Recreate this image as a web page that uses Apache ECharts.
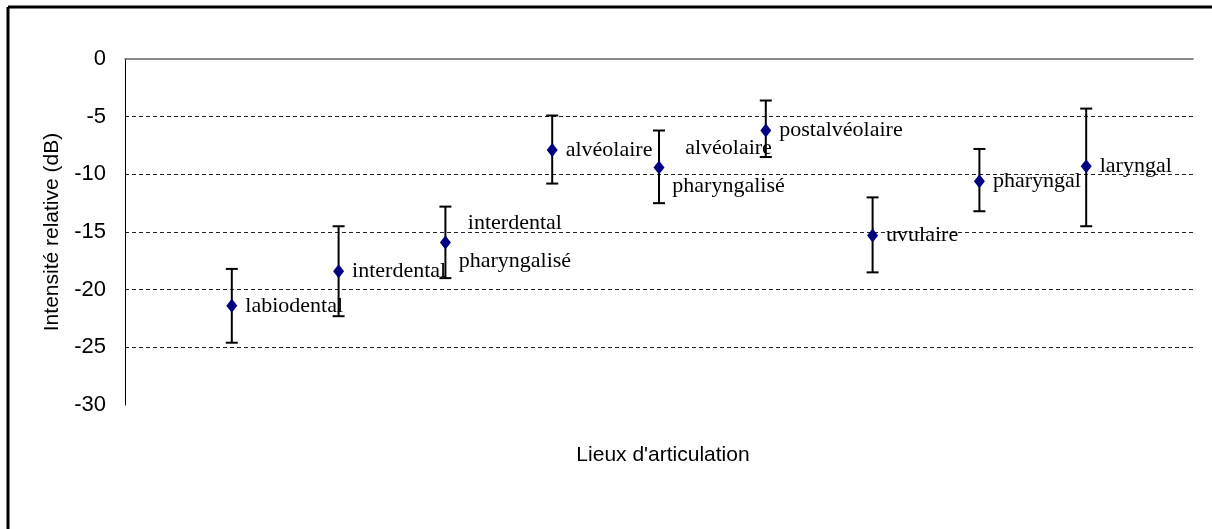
<!DOCTYPE html>
<html>
<head>
<meta charset="utf-8">
<script src="https://cdn.jsdelivr.net/npm/echarts@6/dist/echarts.min.js"></script>
<style>
  html, body { margin: 0; padding: 0; background: #fff; }
  #chart { width: 1212px; height: 529px; }
</style>
</head>
<body>
<div id="chart"></div>
<script>
// lieux d'articulation, positions 1..9 sur l'axe
const places = [
  "labiodental",
  "interdental",
  "interdental\npharyngalisé",
  "alvéolaire",
  "alvéolaire\npharyngalisé",
  "postalvéolaire",
  "uvulaire",
  "pharyngal",
  "laryngal",
];
const means = [-21.4, -18.4, -15.9, -7.9, -9.4, -6.2, -15.3, -10.6, -9.3];
const upper = [-18.2, -14.5, -12.8, -4.9, -6.2, -3.6, -12.0, -7.8, -4.3];
const lower = [-24.6, -22.3, -19.0, -10.8, -12.5, -8.5, -18.5, -13.2, -14.5];
const yTicks = [-30, -25, -20, -15, -10, -5, 0];

const points = means.map((v, i) => ({ value: [i + 1, v], name: places[i] }));
const bars = means.map((v, i) => [i + 1, lower[i], upper[i]]);

const chart = echarts.init(document.getElementById("chart"));

const renderErrorBar = (params, api) => {
  const x = api.value(0);
  const lo = api.coord([x, api.value(1)]);
  const hi = api.coord([x, api.value(2)]);
  const cap = 6;
  const style = { stroke: "#000", lineWidth: 2 };
  return {
    type: "group",
    children: [
      { type: "line", shape: { x1: lo[0], y1: lo[1], x2: hi[0], y2: hi[1] }, style },
      { type: "line", shape: { x1: hi[0] - cap, y1: hi[1], x2: hi[0] + cap, y2: hi[1] }, style },
      { type: "line", shape: { x1: lo[0] - cap, y1: lo[1], x2: lo[0] + cap, y2: lo[1] }, style },
    ],
  };
};

chart.setOption({
  animation: false,
  backgroundColor: "#fff",
  title: {
    text: "Lieux d'articulation",
    left: 658,
    top: 440,
    textAlign: "center",
    textStyle: {
      fontFamily: "Liberation Sans",
      fontSize: 21,
      fontWeight: "normal",
      color: "#000",
    },
  },
  graphic: [
    { type: "line", shape: { x1: 8, y1: 7, x2: 1212, y2: 7 }, style: { stroke: "#000", lineWidth: 3 } },
    { type: "line", shape: { x1: 8, y1: 7, x2: 8, y2: 529 }, style: { stroke: "#000", lineWidth: 3 } },
  ],
  grid: { left: 125, top: 59, right: 19, bottom: 124 },
  xAxis: {
    type: "value",
    min: 0,
    max: 10,
    position: "top",
    axisLine: { show: true, lineStyle: { color: "#666", width: 1.5 } },
    axisTick: { show: false },
    axisLabel: { show: false },
    splitLine: { show: false },
  },
  yAxis: {
    type: "value",
    min: yTicks[0],
    max: yTicks[yTicks.length - 1],
    interval: 5,
    name: "Intensité relative (dB)",
    nameLocation: "middle",
    nameGap: 62,
    nameTextStyle: { fontFamily: "Liberation Sans", fontSize: 21, color: "#000" },
    axisLine: { show: true, lineStyle: { color: "#000", width: 1 } },
    axisTick: { show: false },
    axisLabel: {
      margin: 19,
      fontFamily: "Liberation Sans",
      fontSize: 22,
      color: "#000",
    },
    splitLine: {
      show: true,
      showMinLine: false,
      showMaxLine: false,
      lineStyle: { color: "#222", width: 1, type: [4, 3] },
    },
  },
  series: [
    {
      type: "custom",
      renderItem: renderErrorBar,
      data: bars,
      z: 2,
    },
    {
      type: "scatter",
      data: points,
      symbol: "diamond",
      symbolSize: [11, 14],
      itemStyle: { color: "#000080", opacity: 1 },
      z: 3,
      label: {
        show: true,
        position: "right",
        distance: 8,
        fontFamily: "Liberation Serif",
        fontSize: 22,
        color: "#000",
        opacity: 1,
        formatter: (p) => {
          if (p.name.indexOf("\n") < 0) return p.name;
          return p.name.split("\n").map((l) => "{c|" + l + "}").join("\n");
        },
        rich: {
          c: {
            width: 112,
            align: "center",
            lineHeight: 38,
            fontFamily: "Liberation Serif",
            fontSize: 22,
            color: "#000",
          },
        },
      },
    },
  ],
});
</script>
</body>
</html>
